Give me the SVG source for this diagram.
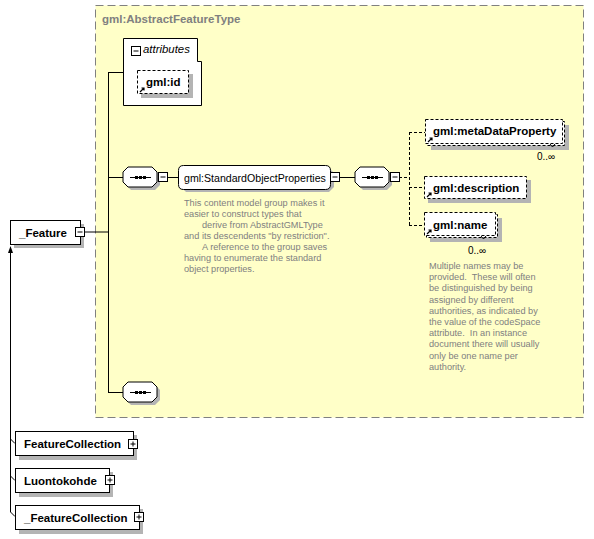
<svg xmlns="http://www.w3.org/2000/svg" width="594" height="539" viewBox="0 0 594 539">
<style>
text{font-family:"Liberation Sans",Arial,sans-serif}
.b{font-weight:bold;font-size:11.5px;fill:#000}
.r{font-size:10.6px;fill:#000}
.doc{font-size:9.2px;fill:#808080;white-space:pre}
.ttl{font-weight:bold;font-size:11.5px;fill:#808080}
.box{fill:#fff;stroke:#000;stroke-width:1}
.dbox{fill:#fff;stroke:#000;stroke-width:1;stroke-dasharray:3,2}
.sh{fill:#b4b4b4}
.ln{stroke:#000;stroke-width:1;fill:none}
.dl{stroke:#000;stroke-width:1;fill:none;stroke-dasharray:3,2}
.mult{font-size:10px;fill:#000}
</style>
<defs>
<g id="minus"><rect x="0.5" y="0.5" width="9" height="9" fill="#fff" stroke="#000"/><line x1="2.5" y1="5" x2="7.5" y2="5" stroke="#000"/></g>
<g id="plus"><rect x="0.5" y="0.5" width="9" height="9" fill="#fff" stroke="#000"/><line x1="2.5" y1="5" x2="7.5" y2="5" stroke="#000"/><line x1="5" y1="2.5" x2="5" y2="7.5" stroke="#000"/></g>
<g id="seq">
<path d="M8,3 H32 L37,8 V18 L32,23 H8 L3,18 V8 Z" fill="#b4b4b4"/>
<path d="M5,0 H29 L34,5 V15 L29,20 H5 L0,15 V5 Z" fill="#fff" stroke="#000"/>
<line x1="7" y1="10.5" x2="28" y2="10.5" stroke="#000"/>
<rect x="12" y="9" width="3" height="3" fill="#000"/><rect x="16" y="9" width="3" height="3" fill="#000"/><rect x="20" y="9" width="3" height="3" fill="#000"/>
</g>
<g id="ref"><path d="M1,5 L5,1 M2.5,1 H5 V3.5" stroke="#000" stroke-width="1.2" fill="none"/></g>
</defs>

<g id="type">
<rect x="95.5" y="5.5" width="488" height="412" fill="#ffffc8" stroke="#808080" stroke-dasharray="8,4"/>
<text class="ttl" x="102" y="23">gml:AbstractFeatureType</text>
</g>

<g id="connectors">
<line class="ln" x1="85" y1="232" x2="108" y2="232"/>
<line class="ln" x1="108.5" y1="72" x2="108.5" y2="392"/>
<line class="ln" x1="108" y1="72.5" x2="123" y2="72.5"/>
<line class="ln" x1="108" y1="177.5" x2="123" y2="177.5"/>
<line class="ln" x1="108" y1="392.5" x2="123" y2="392.5"/>
<line class="ln" x1="167" y1="177.5" x2="178" y2="177.5"/>
<line class="ln" x1="339" y1="177.5" x2="355" y2="177.5"/>
<line class="dl" x1="399" y1="177.5" x2="409" y2="177.5"/>
<line class="dl" x1="409.5" y1="132" x2="409.5" y2="225"/>
<line class="dl" x1="409" y1="132.5" x2="425" y2="132.5"/>
<line class="dl" x1="409" y1="187.5" x2="424" y2="187.5"/>
<line class="dl" x1="409" y1="225.5" x2="424" y2="225.5"/>
<line class="ln" x1="10.5" y1="250" x2="10.5" y2="512"/>
<path d="M10.5,246 L8,253 H13 Z" fill="#000"/>
<path class="ln" d="M10.5,439 L15,443.5 M10.5,476 L15,480.5 M10.5,512 L15,516.5"/>
</g>

<g id="attributes">
<path d="M123.5,38.5 H197.5 V61.5 H201.5 V105.5 H123.5 Z" fill="#fff" stroke="#000"/>
<use href="#minus" x="131" y="46"/>
<text x="143" y="53" style="font-style:italic;font-size:11.4px">attributes</text>
</g>

<g id="gml-id">
<rect class="sh" x="141" y="74" width="52" height="24"/>
<rect class="dbox" x="137.5" y="70.5" width="51" height="23"/>
<text class="b" x="146" y="86">gml:id</text>
<use href="#ref" x="139" y="87"/>
</g>

<g id="feature">
<rect class="sh" x="14" y="224" width="70" height="24"/>
<rect class="box" x="10.5" y="220.5" width="70" height="24"/>
<text class="b" x="19" y="237">_Feature</text>
<use href="#minus" x="75" y="227"/>
</g>

<g id="seq1"><use href="#seq" x="123" y="167"/><use href="#minus" x="158" y="172"/></g>

<g id="standard-object-properties">
<path d="M186,168 H329 L334,173 V187 L329,192 H186 L181,187 V173 Z" fill="#b4b4b4"/>
<path d="M183.5,165.5 H325.5 Q330.5,165.5 330.5,170.5 V184.5 Q330.5,189.5 325.5,189.5 H183.5 Q178.5,189.5 178.5,184.5 V170.5 Q178.5,165.5 183.5,165.5 Z" fill="#fff" stroke="#000"/>
<text class="r" x="184" y="182">gml:StandardObjectProperties</text>
<use href="#minus" x="330" y="172"/>
<text class="doc" xml:space="preserve"><tspan x="184" y="206">This content model group makes it</tspan><tspan x="184" y="217">easier to construct types that</tspan><tspan x="202" y="228">derive from AbstractGMLType</tspan><tspan x="184" y="239">and its descendents "by restriction".</tspan><tspan x="202" y="250">A reference to the group saves</tspan><tspan x="184" y="261">having to enumerate the standard</tspan><tspan x="184" y="272">object properties.</tspan></text>
</g>

<g id="seq2"><use href="#seq" x="355" y="167"/><use href="#minus" x="390" y="172"/></g>

<g id="metaDataProperty">
<rect class="sh" x="431" y="125" width="138" height="25"/>
<rect class="dbox" x="427.5" y="121.5" width="137" height="24"/>
<rect class="dbox" x="425.5" y="119.5" width="137" height="24"/>
<path d="M550,144 L552.5,147 L555,144" class="ln"/>
<text class="b" x="433" y="135">gml:metaDataProperty</text>
<use href="#ref" x="427" y="137"/>
<text class="mult" x="537" y="160">0..∞</text>
</g>

<g id="description">
<rect class="sh" x="428" y="180" width="103" height="23"/>
<rect class="dbox" x="424.5" y="176.5" width="102" height="22"/>
<text class="b" x="433" y="192">gml:description</text>
<use href="#ref" x="426" y="192"/>
</g>

<g id="name">
<rect class="sh" x="430" y="218" width="72" height="24"/>
<rect class="dbox" x="426.5" y="214.5" width="71" height="23"/>
<rect class="dbox" x="424.5" y="212.5" width="71" height="23"/>
<path d="M481,236 L483.5,239 L486,236" class="ln"/>
<text class="b" x="433" y="229">gml:name</text>
<use href="#ref" x="426" y="229"/>
<text class="mult" x="468" y="254">0..∞</text>
<text class="doc" xml:space="preserve"><tspan x="429" y="269">Multiple names may be</tspan><tspan x="429" y="280.2">provided.  These will often</tspan><tspan x="429" y="291.4">be distinguished by being</tspan><tspan x="429" y="302.6">assigned by different</tspan><tspan x="429" y="313.8">authorities, as indicated by</tspan><tspan x="429" y="325">the value of the codeSpace</tspan><tspan x="429" y="336.2">attribute.  In an instance</tspan><tspan x="429" y="347.4">document there will usually</tspan><tspan x="429" y="358.6">only be one name per</tspan><tspan x="429" y="369.8">authority.</tspan></text>
</g>

<g id="seq3"><use href="#seq" x="123" y="382"/></g>

<g id="FeatureCollection">
<rect class="sh" x="19" y="435" width="118" height="25"/>
<rect class="box" x="15.5" y="431.5" width="118" height="24"/>
<text class="b" x="24" y="448">FeatureCollection</text>
<use href="#plus" x="128" y="439"/>
</g>

<g id="Luontokohde">
<rect class="sh" x="19" y="472" width="94" height="25"/>
<rect class="box" x="15.5" y="468.5" width="94" height="24"/>
<text class="b" x="24" y="485">Luontokohde</text>
<use href="#plus" x="105" y="475"/>
</g>

<g id="_FeatureCollection">
<rect class="sh" x="19" y="509" width="124" height="25"/>
<rect class="box" x="15.5" y="505.5" width="124" height="24"/>
<text class="b" x="24" y="522">_FeatureCollection</text>
<use href="#plus" x="134" y="512"/>
</g>
</svg>
